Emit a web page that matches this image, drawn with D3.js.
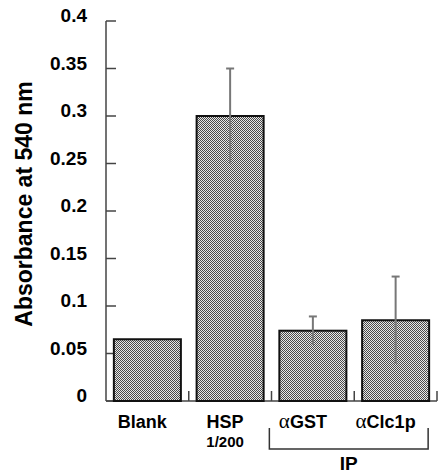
<!DOCTYPE html>
<html>
<head>
<meta charset="utf-8">
<script src="https://cdn.jsdelivr.net/npm/d3@7"></script>
<style>
  body { margin: 0; background: #fff; overflow: hidden; }
  svg { display: block; }
  text { font-family: "Liberation Sans", Arial, sans-serif; font-weight: bold; }
</style>
</head>
<body>
<svg id="chart"></svg>
<script>
// values
const categories = ["Blank", "HSP", "GST", "Clc1p"];
const means = [0.065, 0.3, 0.074, 0.085];
const errors = [0, 0.05, 0.015, 0.046];
const yTicks = [0, 0.05, 0.1, 0.15, 0.2, 0.25, 0.3, 0.35, 0.4];
const yTickLabels = ["0", "0.05", "0.1", "0.15", "0.2", "0.25", "0.3", "0.35", "0.4"];
const alphaLabels = [false, false, true, true];
const subLabels = ["", "1/200", "", ""];

const width = 442, height = 475;
const svg = d3.select("#chart").attr("width", width).attr("height", height);

// checker fill
const defs = svg.append("defs");
const pat = defs.append("pattern")
    .attr("id", "checker")
    .attr("width", 2).attr("height", 2)
    .attr("patternUnits", "userSpaceOnUse");
pat.append("rect").attr("width", 2).attr("height", 2).attr("fill", "#e8e8e8");
pat.append("rect").attr("width", 1).attr("height", 1).attr("fill", "#4a4a4a");
pat.append("rect").attr("x", 1).attr("y", 1).attr("width", 1).attr("height", 1).attr("fill", "#4a4a4a");

const x = d3.scaleBand()
    .domain(categories)
    .range([106, 437])
    .paddingInner(0.19)
    .paddingOuter(0.095);

const y = d3.scaleLinear().domain([0, 0.4]).range([401, 21]);

// y axis
svg.append("line")
    .attr("x1", 106).attr("x2", 106)
    .attr("y1", y(0.4)).attr("y2", y(0))
    .attr("stroke", "#444").attr("stroke-width", 1.5);

svg.selectAll(".ytick")
    .data(yTicks)
    .enter().append("line")
    .attr("x1", 106).attr("x2", 116)
    .attr("y1", d => y(d)).attr("y2", d => y(d))
    .attr("stroke", "#444").attr("stroke-width", 1.5);

svg.selectAll(".ylab")
    .data(yTicks)
    .enter().append("text")
    .attr("x", 87)
    .attr("y", d => y(d) + 1)
    .attr("text-anchor", "end")
    .attr("font-size", 19)
    .text((d, i) => yTickLabels[i]);

svg.append("text")
    .attr("transform", "translate(32," + 204 + ") rotate(-90)")
    .attr("text-anchor", "middle")
    .attr("font-size", 23)
    .text("Absorbance at 540 nm");

// x axis baseline and separators
svg.append("line")
    .attr("x1", 106).attr("x2", 437)
    .attr("y1", y(0)).attr("y2", y(0))
    .attr("stroke", "#444").attr("stroke-width", 1.5);

const gap = x.step() * x.paddingInner() / 2;
svg.selectAll(".xtick")
    .data(categories)
    .enter().append("line")
    .attr("x1", d => x(d) + x.bandwidth() + gap)
    .attr("x2", d => x(d) + x.bandwidth() + gap)
    .attr("y1", y(0)).attr("y2", y(0) - 10)
    .attr("stroke", "#444").attr("stroke-width", 1.5);

// bars
svg.selectAll(".bar")
    .data(categories)
    .enter().append("rect")
    .attr("x", d => x(d))
    .attr("y", (d, i) => y(means[i]))
    .attr("width", x.bandwidth())
    .attr("height", (d, i) => y(0) - y(means[i]))
    .attr("fill", "url(#checker)")
    .attr("stroke", "#111")
    .attr("stroke-width", 2);

// error bars
const eb = svg.selectAll(".err")
    .data(categories.filter((d, i) => errors[i] > 0))
    .enter().append("g");
eb.append("line")
    .attr("x1", d => x(d) + x.bandwidth() / 2)
    .attr("x2", d => x(d) + x.bandwidth() / 2)
    .attr("y1", d => y(means[categories.indexOf(d)] + errors[categories.indexOf(d)]))
    .attr("y2", d => y(means[categories.indexOf(d)] - errors[categories.indexOf(d)]))
    .attr("stroke", "#777").attr("stroke-width", 2);
eb.append("line")
    .attr("x1", d => x(d) + x.bandwidth() / 2 - 4)
    .attr("x2", d => x(d) + x.bandwidth() / 2 + 4)
    .attr("y1", d => y(means[categories.indexOf(d)] + errors[categories.indexOf(d)]))
    .attr("y2", d => y(means[categories.indexOf(d)] + errors[categories.indexOf(d)]))
    .attr("stroke", "#777").attr("stroke-width", 2);

// category labels
const lab = svg.selectAll(".xlab")
    .data(categories)
    .enter().append("text")
    .attr("x", d => x(d) + x.bandwidth() / 2 - (alphaLabels[categories.indexOf(d)] ? 10 : 5))
    .attr("y", 428)
    .attr("text-anchor", "middle")
    .attr("font-size", 18);
lab.filter((d, i) => alphaLabels[i]).append("tspan")
    .attr("font-family", "'Liberation Serif', 'Times New Roman', serif")
    .attr("font-weight", "normal")
    .attr("font-size", 21)
    .text("\u03b1");
lab.append("tspan").text(d => d);

svg.selectAll(".sublab")
    .data(categories.filter((d, i) => subLabels[i]))
    .enter().append("text")
    .attr("x", d => x(d) + x.bandwidth() / 2 - 5)
    .attr("y", 447)
    .attr("text-anchor", "middle")
    .attr("font-size", 15)
    .text(d => subLabels[categories.indexOf(d)]);

// IP bracket
const bx1 = x("GST") - 10, bx2 = x("Clc1p") + x.bandwidth() - 1;
svg.append("path")
    .attr("d", `M${bx1},428V449H${bx2}V428`)
    .attr("fill", "none")
    .attr("stroke", "#333").attr("stroke-width", 1.5);
svg.append("text")
    .attr("x", (bx1 + bx2) / 2)
    .attr("y", 470)
    .attr("text-anchor", "middle")
    .attr("font-size", 19)
    .text("IP");
</script>
</body>
</html>
